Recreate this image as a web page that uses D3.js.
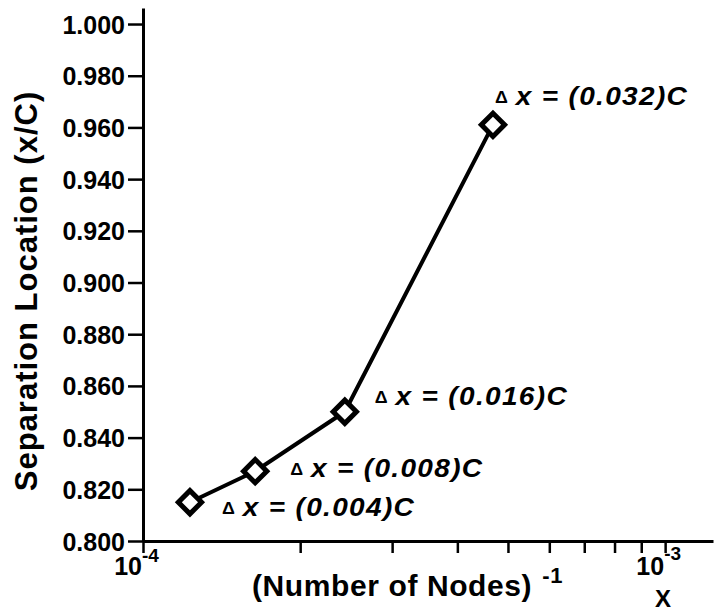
<!DOCTYPE html>
<html>
<head>
<meta charset="utf-8">
<script src="https://cdn.jsdelivr.net/npm/d3@7"></script>
<style>
  html, body { margin: 0; padding: 0; background: #fff; }
  svg text { font-family: "Liberation Sans", Arial, Helvetica, sans-serif; font-weight: bold; fill: #000; }
</style>
</head>
<body>
<svg id="chart" width="717" height="614"></svg>
<script>
// Grid-refinement study: separation point vs. inverse node count
const inverseNodes = [1.23e-4, 1.64e-4, 2.435e-4, 4.68e-4];
const separation = [0.815, 0.827, 0.850, 0.961];
const spacingLabels = ["0.004", "0.008", "0.016", "0.032"];
const yTickValues = [0.800, 0.820, 0.840, 0.860, 0.880, 0.900, 0.920, 0.940, 0.960, 0.980, 1.000];
const xTickValues = [1e-4, 2e-4, 3e-4, 4e-4, 5e-4, 6e-4, 7e-4, 8e-4, 9e-4, 1e-3];
const decadeLabels = [{ value: 1e-4, exp: "-4" }, { value: 1e-3, exp: "-3" }];

// annotation placement relative to each marker
const labelOffsets = [[32, 14], [35, 6], [30, -7], [2, -20]];

const svg = d3.select("#chart");

const x = d3.scaleLog().domain([1e-4, 1.235e-3]).range([143, 713]);
const y = d3.scaleLinear().domain([0.8, 1.0062]).range([541, 8]);

// y axis
const yAxis = svg.append("g")
  .attr("transform", `translate(${x(1e-4)},0)`)
  .call(d3.axisLeft(y).tickValues(yTickValues).tickSize(15).tickSizeOuter(0)
    .tickPadding(3).tickFormat(d3.format(".3f")));
yAxis.select(".domain").attr("stroke", "#000").attr("stroke-width", 3);
yAxis.selectAll(".tick line").attr("stroke", "#000").attr("stroke-width", 2.5);
yAxis.selectAll(".tick text").style("font-size", "25px").attr("dy", "0.36em");

// x axis (log)
const xAxis = svg.append("g")
  .attr("transform", `translate(0,${y(0.8)})`)
  .call(d3.axisBottom(x).tickValues(xTickValues).tickSize(12).tickSizeOuter(0).tickFormat(""));
xAxis.select(".domain").attr("stroke", "#000").attr("stroke-width", 3);
xAxis.selectAll(".tick line").attr("stroke", "#000").attr("stroke-width", 2.5);

// decade labels 10^-4, 10^-3
decadeLabels.forEach((d, i) => {
  svg.append("text")
    .attr("x", x(d.value) - 1)
    .attr("y", 575)
    .attr("text-anchor", "end")
    .style("font-size", "25px")
    .text("10");
  svg.append("text")
    .attr("x", x(d.value) - 1)
    .attr("y", i === 0 ? 562 : 560)
    .style("font-size", "19px")
    .text(d.exp);
});

// axis titles
const xTitle = svg.append("text")
  .attr("x", 252)
  .attr("y", 596)
  .style("font-size", "30px")
  .style("letter-spacing", "0.6px");
xTitle.append("tspan").text("(Number of Nodes)");
xTitle.append("tspan").attr("dx", 10).attr("dy", -13).style("font-size", "22px").text("-1");

svg.append("text")
  .attr("x", 663).attr("y", 607)
  .attr("text-anchor", "middle")
  .style("font-size", "24px")
  .text("X");

svg.append("text")
  .attr("transform", "translate(37,291) rotate(-90)")
  .attr("text-anchor", "middle")
  .style("font-size", "31px")
  .style("letter-spacing", "1px")
  .text("Separation Location (x/C)");

// data line
const pts = inverseNodes.map((v, i) => [v, separation[i]]);
svg.append("path")
  .datum(pts)
  .attr("fill", "none")
  .attr("stroke", "#000")
  .attr("stroke-width", 4)
  .attr("d", d3.line().x(d => x(d[0])).y(d => y(d[1])));

// diamond markers
svg.selectAll(".marker")
  .data(pts)
  .join("path")
  .attr("class", "marker")
  .attr("transform", d => `translate(${x(d[0])},${y(d[1])}) rotate(45)`)
  .attr("d", d3.symbol().type(d3.symbolSquare).size(270))
  .attr("fill", "#fff")
  .attr("stroke", "#000")
  .attr("stroke-width", 5);

// grid spacing annotations (slightly widened lettering)
pts.forEach((d, i) => {
  const t = svg.append("text")
    .attr("transform", `translate(${x(d[0]) + labelOffsets[i][0]},${y(d[1]) + labelOffsets[i][1]}) scale(1.12,1)`)
    .style("font-size", "25px")
    .style("font-style", "italic");
  t.append("tspan").attr("dy", -2).style("font-size", "16px").style("font-style", "normal").text("\u0394");
  t.append("tspan").attr("dx", 7).attr("dy", 2).style("letter-spacing", "1.2px").text("x = (" + spacingLabels[i] + ")C");
});
</script>
</body>
</html>
